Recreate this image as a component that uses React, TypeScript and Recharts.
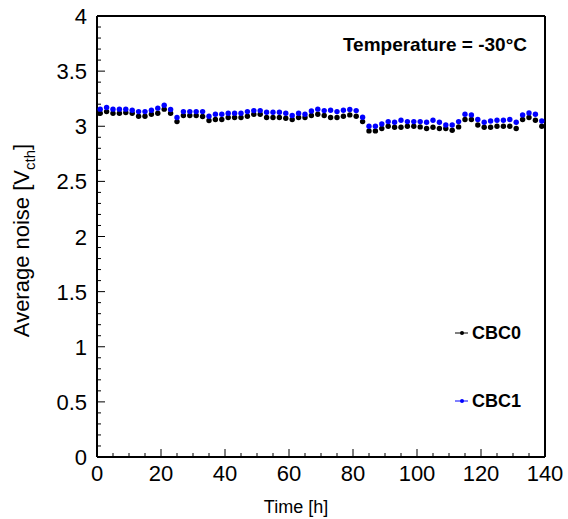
import { ScatterChart, Scatter, XAxis, YAxis, Legend } from 'recharts';

// time of each measurement [h]
const hours = [
  1, 3, 5, 7, 9, 11, 13, 15, 17, 19, 21, 23, 25, 27, 29, 31, 33, 35,
  37, 39, 41, 43, 45, 47, 49, 51, 53, 55, 57, 59, 61, 63, 65, 67, 69, 71,
  73, 75, 77, 79, 81, 83, 85, 87, 89, 91, 93, 95, 97, 99, 101, 103, 105, 107,
  109, 111, 113, 115, 117, 119, 121, 123, 125, 127, 129, 131, 133, 135, 137, 139,
];

// average noise [Vcth]
const cbc0 = [
  3.118, 3.133, 3.118, 3.118, 3.124, 3.118, 3.091, 3.091, 3.109, 3.118, 3.155, 3.118, 3.042, 3.097, 3.097, 3.097, 3.088, 3.052,
  3.061, 3.061, 3.079, 3.079, 3.079, 3.091, 3.109, 3.109, 3.079, 3.079, 3.079, 3.073, 3.061, 3.079, 3.079, 3.097, 3.109, 3.097,
  3.079, 3.079, 3.091, 3.103, 3.091, 3.042, 2.958, 2.958, 2.979, 3.0, 2.991, 2.991, 3.0, 3.0, 2.994, 2.979, 2.991, 2.979,
  2.979, 2.964, 2.994, 3.061, 3.061, 3.012, 2.991, 2.991, 3.0, 3.0, 3.0, 2.979, 3.061, 3.079, 3.055, 3.0,
];
const cbc1 = [
  3.155, 3.17, 3.155, 3.155, 3.155, 3.145, 3.133, 3.133, 3.145, 3.164, 3.191, 3.152, 3.079, 3.133, 3.133, 3.133, 3.133, 3.091,
  3.109, 3.109, 3.118, 3.118, 3.118, 3.133, 3.142, 3.142, 3.127, 3.127, 3.127, 3.118, 3.097, 3.118, 3.109, 3.139, 3.155, 3.142,
  3.145, 3.133, 3.145, 3.152, 3.142, 3.082, 3.0, 3.0, 3.021, 3.042, 3.036, 3.055, 3.042, 3.042, 3.042, 3.036, 3.055, 3.036,
  3.012, 3.012, 3.042, 3.109, 3.103, 3.061, 3.036, 3.048, 3.055, 3.055, 3.061, 3.036, 3.103, 3.121, 3.109, 3.048,
];

const xMajorTicks = [0, 20, 40, 60, 80, 100, 120, 140];
const yMajorTicks = [0, 0.5, 1, 1.5, 2, 2.5, 3, 3.5, 4];
// minor ticks: 4 divisions on x, 5 on y
const xTicks = Array.from({ length: 29 }, (_, i) => i * 5);
const yTicks = Array.from({ length: 41 }, (_, i) => i / 10);

const data0 = hours.map((t, i) => ({ time: t, noise: cbc0[i] }));
const data1 = hours.map((t, i) => ({ time: t, noise: cbc1[i] }));

const MAJOR = 8;
const MINOR = 4;

const BottomTick = (props: any) => {
  const { x, y, payload } = props;
  const major = xMajorTicks.includes(payload.value);
  return (
    <g>
      <line x1={x} y1={y} x2={x} y2={y - (major ? MAJOR : MINOR)} stroke="#000" />
      {major && (
        <text x={x} y={y + 24} textAnchor="middle" fontSize={22} fill="#000">
          {payload.value}
        </text>
      )}
    </g>
  );
};

const TopTick = (props: any) => {
  const { x, y, payload } = props;
  const major = xMajorTicks.includes(payload.value);
  return <line x1={x} y1={y} x2={x} y2={y + (major ? MAJOR : MINOR)} stroke="#000" />;
};

const LeftTick = (props: any) => {
  const { x, y, payload } = props;
  const major = yMajorTicks.includes(payload.value);
  return (
    <g>
      <line x1={x} y1={y} x2={x + (major ? MAJOR : MINOR)} y2={y} stroke="#000" />
      {major && (
        <text x={x - 10} y={y + 8} textAnchor="end" fontSize={22} fill="#000">
          {payload.value}
        </text>
      )}
    </g>
  );
};

const RightTick = (props: any) => {
  const { x, y, payload } = props;
  const major = yMajorTicks.includes(payload.value);
  return <line x1={x} y1={y} x2={x - (major ? MAJOR : MINOR)} y2={y} stroke="#000" />;
};

const YTitle = (props: any) => {
  const vb = props.viewBox || { x: 37, y: 16, width: 60, height: 441 };
  const cx = vb.x - 8;
  const cy = vb.y + vb.height / 2 + 4;
  return (
    <text x={cx} y={cy} transform={`rotate(-90, ${cx}, ${cy})`} textAnchor="middle" fontSize={22} fill="#000">
      Average noise [V
      <tspan fontSize={15} dy={6}>cth</tspan>
      <tspan dy={-6}>]</tspan>
    </text>
  );
};

const XTitle = (props: any) => {
  const vb = props.viewBox || { x: 97, y: 457, width: 448, height: 62 };
  return (
    <text x={vb.x + vb.width / 2 - 25} y={vb.y + 56} textAnchor="middle" fontSize={18} fill="#000">
      Time [h]
    </text>
  );
};

const dot = (color: string) => (p: any) => <circle cx={p.cx} cy={p.cy} r={2.7} fill={color} />;

// zero-height box so the legend takes no room from the plot
const LegendBox = (props: any) => {
  const items = props.payload || [];
  return (
    <div style={{ position: 'relative', width: 110, height: 0 }}>
      {items.map((entry: any, i: number) => (
        <div
          key={`leg-${i}`}
          style={{ position: 'absolute', left: 0, top: i * 68, height: 20, display: 'flex', alignItems: 'center' }}
        >
          <svg width={15} height={20}>
            <line x1={0} y1={10} x2={13} y2={10} stroke={entry.color} />
            <circle cx={7} cy={10} r={2} fill={entry.color} />
          </svg>
          <span style={{ fontWeight: 'bold', fontSize: 18, marginLeft: 2, color: '#000' }}>{entry.value}</span>
        </div>
      ))}
    </div>
  );
};

export default function App() {
  // pinned to the window corner so nothing overflows (no scrollbar)
  return (
    <div
      style={{
        position: 'absolute',
        left: 0,
        top: 0,
        width: 568,
        height: 519,
        fontFamily: '"Liberation Sans", Arial, sans-serif',
      }}
    >
      <ScatterChart width={568} height={519} margin={{ top: 15, right: 22, bottom: 0, left: 37 }}>
        <XAxis
          dataKey="time"
          type="number"
          domain={[0, 140]}
          ticks={xTicks}
          interval={0}
          height={62}
          tickSize={0}
          tickMargin={0}
          tickLine={false}
          tick={<BottomTick />}
          axisLine={{ stroke: '#000', strokeWidth: 2 }}
          label={<XTitle />}
        />
        <XAxis
          xAxisId="top"
          orientation="top"
          type="number"
          domain={[0, 140]}
          ticks={xTicks}
          interval={0}
          height={1}
          tickSize={0}
          tickMargin={0}
          tickLine={false}
          tick={<TopTick />}
          axisLine={{ stroke: '#000', strokeWidth: 2 }}
        />
        <YAxis
          dataKey="noise"
          type="number"
          domain={[0, 4]}
          ticks={yTicks}
          interval={0}
          width={60}
          tickSize={0}
          tickMargin={0}
          tickLine={false}
          tick={<LeftTick />}
          axisLine={{ stroke: '#000', strokeWidth: 2 }}
          label={<YTitle />}
        />
        <YAxis
          yAxisId="right"
          orientation="right"
          type="number"
          domain={[0, 4]}
          ticks={yTicks}
          interval={0}
          width={1}
          tickSize={0}
          tickMargin={0}
          tickLine={false}
          tick={<RightTick />}
          axisLine={{ stroke: '#000', strokeWidth: 2 }}
        />
        <Scatter name="CBC0" data={data0} fill="#000000" shape={dot('#000000')} isAnimationActive={false} />
        <Scatter name="CBC1" data={data1} fill="#0000ff" shape={dot('#0000ff')} isAnimationActive={false} />
        <Legend content={<LegendBox />} wrapperStyle={{ left: 455, top: 323, width: 110, height: 0 }} />
      </ScatterChart>
      <div
        style={{ position: 'absolute', right: 41, top: 34, fontSize: 19, fontWeight: 'bold', color: '#000', whiteSpace: 'nowrap' }}
      >
        Temperature = -30°C
      </div>
    </div>
  );
}
